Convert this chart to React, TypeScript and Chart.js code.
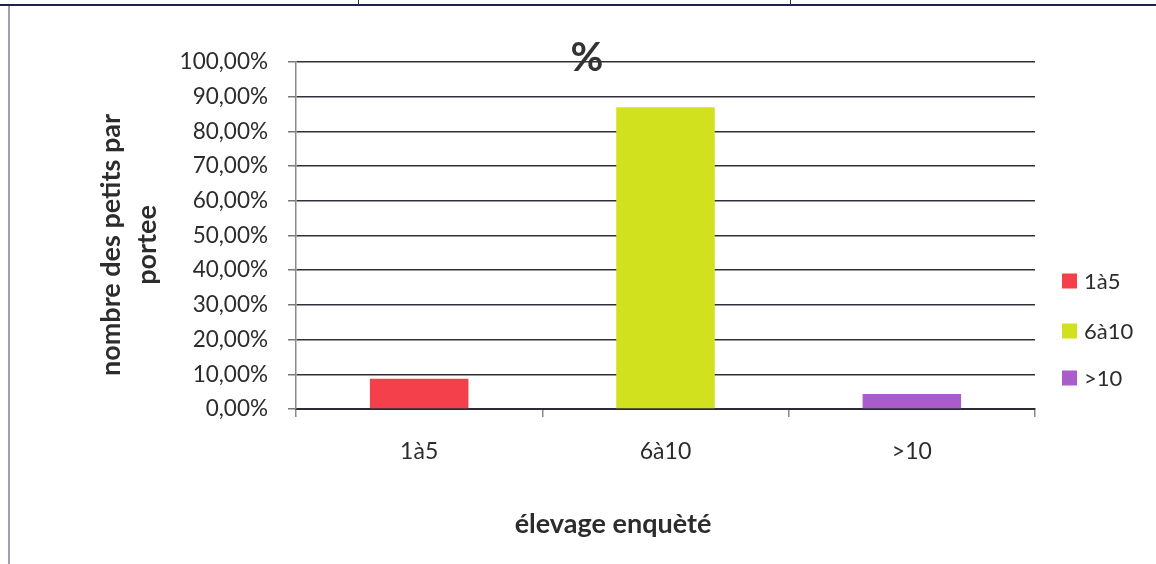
import React, { useEffect, useRef } from "react";
import { Chart, registerables } from "chart.js";

Chart.register(...registerables);

// Breakdown of surveyed farms by litter size
const categories = ["1à5", "6à10", ">10"];
const percentages = [8.7, 86.96, 4.35];
const barColors = ["#f3404b", "#d1e11d", "#ab5ccb"];
const yTickValues = [0, 10, 20, 30, 40, 50, 60, 70, 80, 90, 100];

const chartTitle = "%";
const xTitle = "élevage enquèté";
const yTitle = ["nombre des petits par", "portee"];

const W = 1156;
const H = 564;
const FONT = "Lato, 'Open Sans', sans-serif";
const TEXT = "#2c2c2e";

const fmtPct = (v: number) => v.toFixed(2).replace(".", ",") + "%";

// Chart title, axis titles and the side legend
const annotations = {
  id: "annotations",
  afterDraw(chart: any) {
    const { ctx } = chart;
    ctx.save();

    // main title, sitting on the 100 % line
    ctx.fillStyle = "#333333";
    ctx.font = `bold 40px ${FONT}`;
    ctx.textAlign = "center";
    ctx.textBaseline = "middle";
    ctx.fillText(chartTitle, 587, 58);

    // x-axis title
    ctx.fillStyle = TEXT;
    ctx.font = `bold 27px ${FONT}`;
    ctx.fillText(xTitle, 613, 524);

    // y-axis title, two rotated lines
    ctx.save();
    ctx.translate(0, 245);
    ctx.rotate(-Math.PI / 2);
    yTitle.forEach((line, i) => {
      ctx.fillText(line, 0, 111 + i * 36);
    });
    ctx.restore();

    // legend: one swatch per category
    const ys = [281, 331, 378];
    const labels = chart.data.labels as string[];
    const colors = chart.data.datasets[0].backgroundColor as string[];
    ctx.font = `22px ${FONT}`;
    ctx.textAlign = "left";
    labels.forEach((lab, i) => {
      ctx.fillStyle = colors[i];
      ctx.fillRect(1062, ys[i] - 7.5, 15, 15);
      ctx.fillStyle = TEXT;
      ctx.fillText(lab, 1084, ys[i] + 1);
    });
    ctx.restore();
  },
};

export default function App() {
  const canvasRef = useRef<HTMLCanvasElement | null>(null);

  useEffect(() => {
    const canvas = canvasRef.current;
    if (!canvas) return;
    const chart = new Chart(canvas, {
      type: "bar",
      data: {
        labels: categories,
        datasets: [
          {
            label: chartTitle,
            data: percentages,
            backgroundColor: barColors,
            borderWidth: 0,
            barPercentage: 0.4,
            categoryPercentage: 1,
          },
        ],
      },
      plugins: [annotations],
      options: {
        responsive: false,
        animation: false,
        devicePixelRatio: 1,
        layout: { padding: { left: 0, right: W - 1035, top: 62, bottom: 0 } },
        plugins: {
          legend: { display: false },
          tooltip: { enabled: false },
          title: { display: false },
        },
        scales: {
          x: {
            type: "category",
            afterFit: (scale: any) => {
              scale.height = H - 409;
            },
            grid: {
              display: true,
              drawOnChartArea: false,
              drawTicks: true,
              tickLength: 8,
              offset: true,
              color: "#8a8a8a",
              lineWidth: 1.5,
            },
            border: { display: true, color: "#2b2b35", width: 2 },
            ticks: {
              color: TEXT,
              font: { family: FONT, size: 23 },
              padding: 21,
            },
          },
          y: {
            min: 0,
            max: 100,
            afterFit: (scale: any) => {
              scale.width = 296;
            },
            afterBuildTicks: (scale: any) => {
              scale.ticks = yTickValues.map((v) => ({ value: v }));
            },
            ticks: {
              color: TEXT,
              font: { family: FONT, size: 22.5 },
              padding: 20,
              callback: (v: any) => fmtPct(Number(v)),
            },
            grid: {
              color: "#2f2f3a",
              lineWidth: 1.5,
              drawTicks: true,
              tickLength: 8,
              tickColor: "#777777",
            },
            border: { display: true, color: "#8a8a8a", width: 1.5 },
          },
        },
      },
    } as any);
    return () => chart.destroy();
  }, []);

  return (
    <div
      style={{
        position: "fixed",
        left: 0,
        top: 0,
        width: W,
        height: H,
        background: "#ffffff",
        overflow: "hidden",
      }}
    >
      {/* page rule along the top, with two small column marks */}
      <div style={{ position: "absolute", left: 0, top: 4, width: W, height: 2, background: "#1c2150" }} />
      <div style={{ position: "absolute", left: 358, top: 0, width: 1, height: 5, background: "#333" }} />
      <div style={{ position: "absolute", left: 790, top: 0, width: 1, height: 5, background: "#333" }} />
      {/* page rule down the left side */}
      <div style={{ position: "absolute", left: 8, top: 6, width: 2, height: H - 6, background: "#a0a0a8" }} />
      <canvas
        ref={canvasRef}
        width={W}
        height={H}
        style={{ position: "absolute", left: 0, top: 0, width: W, height: H }}
      />
    </div>
  );
}
